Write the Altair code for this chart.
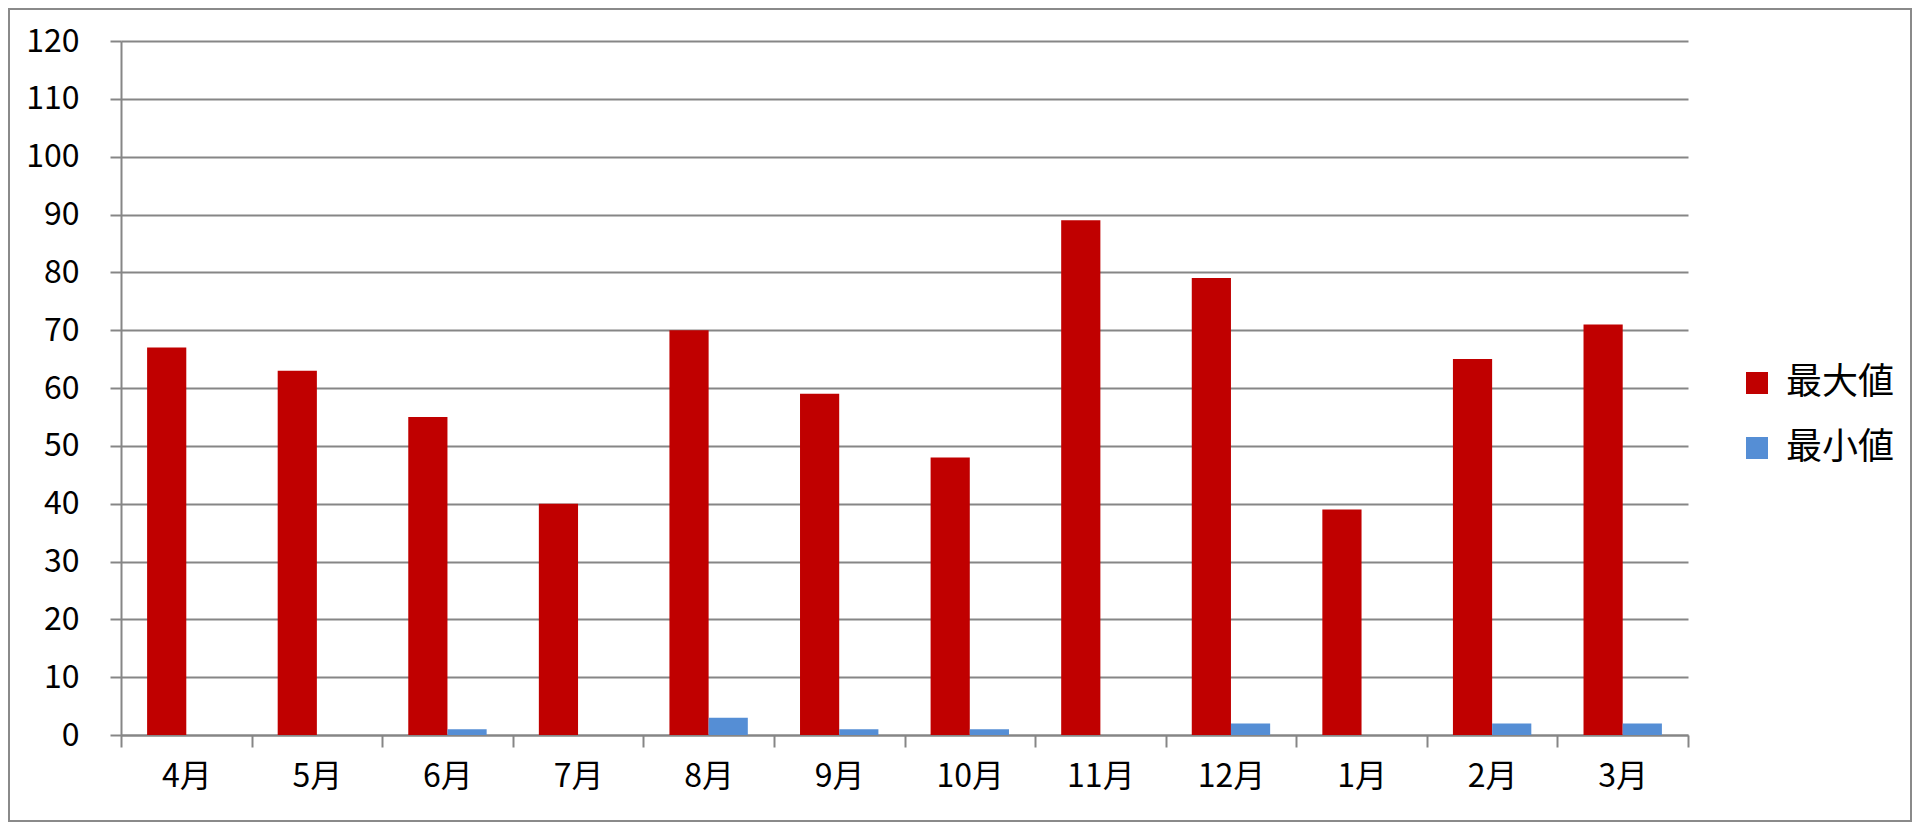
import altair as alt
import pandas as pd

months = ["4月", "5月", "6月", "7月", "8月", "9月", "10月", "11月", "12月", "1月", "2月", "3月"]
max_values = [67, 63, 55, 40, 70, 59, 48, 89, 79, 39, 65, 71]
min_values = [0, 0, 1, 0, 3, 1, 1, 0, 2, 0, 2, 2]
series = ["最大値", "最小値"]
colors = ["#C00000", "#558ED5"]
y_ticks = list(range(0, 121, 10))

rows = []
for m, a, b in zip(months, max_values, min_values):
    rows.append({"month": m, "series": series[0], "value": a})
    rows.append({"month": m, "series": series[1], "value": b})
df = pd.DataFrame(rows)

FONT = "Noto Sans CJK JP"
GREY = "#868686"

bars = alt.Chart(df).mark_bar().encode(
    x=alt.X(
        "month:N",
        sort=months,
        scale=alt.Scale(paddingInner=0, paddingOuter=0),
        axis=alt.Axis(
            title=None, labelAngle=0, tickBand="extent", grid=False,
            tickSize=12, labelPadding=14, labelFontSize=32,
        ),
    ),
    xOffset=alt.XOffset(
        "series:N", sort=series,
        scale=alt.Scale(paddingInner=0, paddingOuter=0.666),
    ),
    y=alt.Y(
        "value:Q",
        scale=alt.Scale(domain=[0, 120], nice=False),
        axis=alt.Axis(
            title=None, values=y_ticks, grid=True, tickSize=11,
            labelPadding=31, labelFontSize=32,
        ),
    ),
    color=alt.Color(
        "series:N",
        sort=series,
        scale=alt.Scale(domain=series, range=colors),
        legend=alt.Legend(
            title=None, orient="none", legendX=1618, legendY=324,
            symbolType="square", symbolSize=484, symbolStrokeWidth=0,
            labelFontSize=36, labelFont=FONT, labelColor="#000000",
            rowPadding=29, labelOffset=11, padding=0,
        ),
    ),
)

frame = alt.Chart(pd.DataFrame({"f": [0]})).mark_rect(
    filled=False, stroke="#8a8a8a", strokeWidth=2
).encode(
    x=alt.value(-112), x2=alt.value(1790), y=alt.value(-32), y2=alt.value(780)
)

chart = alt.layer(frame, bars).properties(
    width=1567,
    height=694,
    autosize="none",
    padding={"left": 113, "top": 33, "right": 224, "bottom": 87},
    background="#ffffff",
).configure_view(stroke=None).configure_axis(
    gridColor=GREY, gridWidth=2, gridOpacity=1,
    domainColor=GREY, domainWidth=2,
    tickColor=GREY, tickWidth=2,
    labelColor="#000000", labelFont=FONT,
)

chart.save("out.html", embed_options={"renderer": "svg", "actions": False})
